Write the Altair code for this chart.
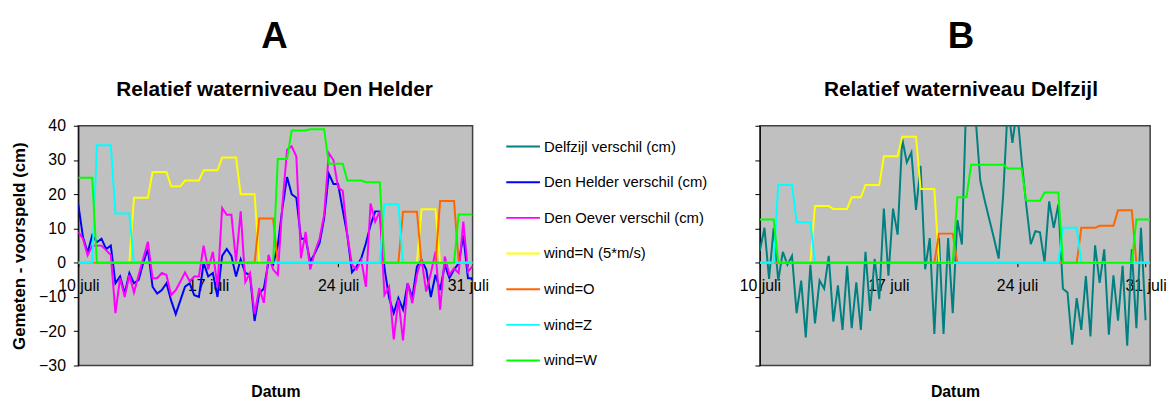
import altair as alt
import pandas as pd

FONT = "Liberation Sans"

series_names = ["Delfzijl verschil (cm)", "Den Helder verschil (cm)", "Den Oever verschil (cm)",
                "wind=N (5*m/s)", "wind=O", "wind=Z", "wind=W"]
series_colors = ["#008080", "#0000FF", "#FF00FF", "#FFFF00", "#FF6600", "#00FFFF", "#00FF00"]

date_ticks = [10, 17, 24, 31]
y_ticks = [-30, -20, -10, 0, 10, 20, 30, 40]

# ---- Panel A: Den Helder (6-hourly values, 10 juli 00h .. 31 juli 06h) ----
den_helder = [17, 7.5, 3, 8, 6, 7, 4, 5, -6, -4,
              -9, -3, -6, -5, 0, 4, -7, -9, -8, -6,
              -11, -15, -11, -7, -6, -9.5, -10, 0, -4, -3,
              -10, 2, 4, 2, -4, 1, -3, -3.5, -17, -9,
              -7.5, 0.3, -0.6, 5, 16, 25, 20, 19, 7, 7,
              0.3, 2.8, 5.7, 13, 26, 23, 23, 15.4, 8, -2.8,
              -1.1, 1.3, 5.7, 11, 15, 15, -1.6, -10.3, -14.7, -10.3,
              -13.7, -6, -10.3, -1.1, 0.8, -2, -10, -3.5, -8, -0.6,
              -4.5, -2, -0.2, 8, -4.5, -4.5]
den_oever = [9, 7, 2.2, 5, 5, 5, 3.7, 2.2, -14.7, -4.5,
             -10, -3.6, -8.7, -3.6, 1.3, 6.1, -4.5, -4.5, -3, -3.6,
             -9.4, -8, -5.5, -2.8, -5.4, -4, -4, 5, -2, 3.2,
             -7, 16, 14, 14, 0.3, 15, -5.6, -3, -15, -7.4,
             -11.7, 2.3, -2, -3.5, 17, 33, 34, 31, 1.3, 9,
             -2, 3.2, 7, 14, 32, 30, 22, 21, 8, -0.6,
             -2, 0.8, -7, 17.3, 12, 15, -9.4, -7, -22.4, -10.8,
             -22.7, -6, -11.8, -3.5, 1, -8.4, -3, 3.2, -13.7, 1.8,
             -3.5, -1.6, -3, 12, -2.6, -1]
wind_n_a = [0, 0, 0, 0, 0, 0, 0, 0, 0, 0,
            0, 0, 19, 19, 19, 19, 26.5, 26.5, 26.5, 26.5,
            22.3, 22.3, 22.3, 24, 24, 24, 24, 27, 27, 27,
            27, 30.7, 30.7, 30.7, 30.7, 20, 20, 20, 20, 0,
            0, 0, 0, 0, 0, 0, 0, 0, 0, 0,
            0, 0, 0, 0, 0, 0, 0, 0, 0, 0,
            0, 0, 0, 0, 0, 0, 0, 0, 0, 0,
            0, 0, 0, 0, 15.6, 15.6, 15.6, 15.6, 0, 0,
            0, 0, 0, 0, 0, 0]
wind_o_a = [0, 0, 0, 0, 0, 0, 0, 0, 0, 0,
            0, 0, 0, 0, 0, 0, 0, 0, 0, 0,
            0, 0, 0, 0, 0, 0, 0, 0, 0, 0,
            0, 0, 0, 0, 0, 0, 0, 0, 0, 12.9,
            12.9, 12.9, 12.9, 0, 0, 0, 0, 0, 0, 0,
            0, 0, 0, 0, 0, 0, 0, 0, 0, 0,
            0, 0, 0, 0, 0, 0, 0, 0, 0, 0,
            14.9, 14.9, 14.9, 14.9, 0, 0, 0, 0, 18, 18,
            18, 18, 0, 0, 0, 0]
wind_z_a = [0, 0, 0, 0, 34.3, 34.3, 34.3, 34.3, 14.4, 14.4,
            14.4, 14.4, 0, 0, 0, 0, 0, 0, 0, 0,
            0, 0, 0, 0, 0, 0, 0, 0, 0, 0,
            0, 0, 0, 0, 0, 0, 0, 0, 0, 0,
            0, 0, 0, 0, 0, 0, 0, 0, 0, 0,
            0, 0, 0, 0, 0, 0, 0, 0, 0, 0,
            0, 0, 0, 0, 0, 0, 17.1, 17.1, 17.1, 17.1,
            0, 0, 0, 0, 0, 0, 0, 0, 0, 0,
            0, 0, 0, 0, 0, 0]
wind_w_a = [24.8, 24.8, 24.8, 24.8, 0, 0, 0, 0, 0, 0,
            0, 0, 0, 0, 0, 0, 0, 0, 0, 0,
            0, 0, 0, 0, 0, 0, 0, 0, 0, 0,
            0, 0, 0, 0, 0, 0, 0, 0, 0, 0,
            0, 0, 0, 30.3, 30.3, 30.3, 38.6, 38.6, 38.6, 38.6,
            39, 39, 39, 39, 28.9, 28.9, 28.9, 28.9, 24, 24,
            24, 24, 23.5, 23.5, 23.5, 23.5, 0, 0, 0, 0,
            0, 0, 0, 0, 0, 0, 0, 0, 0, 0,
            0, 0, 14.1, 14.1, 14.1, 14.1]

# ---- Panel B: Delfzijl ----
delfzijl = [3.5, 10.2, -4.7, 10.2, -5.2, 3.2, -0.6, 2, -14.7, -5.2,
            -21.8, -0.6, -17.7, -5.2, -7.6, 2, -17.2, -6.6, -19.6, -0.9,
            -19.1, -5.7, -19.6, 3.2, -14.1, 1.1, -10.6, 15.8, -3.8, 15.8,
            8.2, 36.2, 29.3, 32.2, 15.4, 28.3, -1.9, 7.2, -20.8, 7.2,
            -20.8, 7.2, -14.7, 12.5, 5.3, 50, 55, 42, 24, 18,
            12.5, 7, 1.2, 20, 46, 35, 45, 30, 17, 5.4,
            9.2, 8.9, 0.1, 17.9, 10.2, 17, -7.6, -8.7, -23.9, -10.3,
            -19.6, -3.9, -21.5, 5.1, -5.9, 3.9, -21, -3.7, -16.9, -0.9,
            -24.2, 3.9, -19.1, 10.2, -16.8, None]
wind_n_b = [0, 0, 0, 0, 0, 0, 0, 0, 0, 0,
            0, 0, 16.6, 16.6, 16.6, 16.6, 15.7, 15.7, 15.7, 15.7,
            19.1, 19.1, 19.1, 22.7, 22.7, 22.7, 22.7, 31.1, 31.1, 31.1,
            31.1, 36.8, 36.8, 36.8, 36.8, 21.5, 21.5, 21.5, 21.5, 0,
            0, 0, 0, 0, 0, 0, 0, 0, 0, 0,
            0, 0, 0, 0, 0, 0, 0, 0, 0, 0,
            0, 0, 0, 0, 0, 0, 0, 0, 0, 0,
            0, 0, 0, 0, 0, 0, 0, 0, 0, 0,
            0, 0, 0, 0, 0, 0]
wind_o_b = [0, 0, 0, 0, 0, 0, 0, 0, 0, 0,
            0, 0, 0, 0, 0, 0, 0, 0, 0, 0,
            0, 0, 0, 0, 0, 0, 0, 0, 0, 0,
            0, 0, 0, 0, 0, 0, 0, 0, 0, 8.5,
            8.5, 8.5, 8.5, 0, 0, 0, 0, 0, 0, 0,
            0, 0, 0, 0, 0, 0, 0, 0, 0, 0,
            0, 0, 0, 0, 0, 0, 0, 0, 0, 0,
            10.2, 10.2, 10.2, 10.2, 10.8, 10.8, 10.8, 10.8, 15.3, 15.3,
            15.3, 15.3, 0, 0, 0, 0]
wind_z_b = [0, 0, 0, 0, 22.7, 22.7, 22.7, 22.7, 11.8, 11.8,
            11.8, 11.8, 0, 0, 0, 0, 0, 0, 0, 0,
            0, 0, 0, 0, 0, 0, 0, 0, 0, 0,
            0, 0, 0, 0, 0, 0, 0, 0, 0, 0,
            0, 0, 0, 0, 0, 0, 0, 0, 0, 0,
            0, 0, 0, 0, 0, 0, 0, 0, 0, 0,
            0, 0, 0, 0, 0, 0, 10.2, 10.2, 10.2, 10.2,
            0, 0, 0, 0, 0, 0, 0, 0, 0, 0,
            0, 0, 0, 0, 0, 0]
wind_w_b = [12.6, 12.6, 12.6, 12.6, 0, 0, 0, 0, 0, 0,
            0, 0, 0, 0, 0, 0, 0, 0, 0, 0,
            0, 0, 0, 0, 0, 0, 0, 0, 0, 0,
            0, 0, 0, 0, 0, 0, 0, 0, 0, 0,
            0, 0, 0, 19.1, 19.1, 19.1, 28.6, 28.6, 28.6, 28.6,
            28.6, 28.6, 28.6, 28.6, 27.5, 27.5, 27.5, 27.5, 18.1, 18.1,
            18.1, 18.1, 20.5, 20.5, 20.5, 20.5, 0, 0, 0, 0,
            0, 0, 0, 0, 0, 0, 0, 0, 0, 0,
            0, 0, 12.6, 12.6, 12.6, 12.6]


def long_df(pairs):
    rows = []
    for name, vals in pairs:
        for i, v in enumerate(vals):
            if v is None:
                continue
            rows.append({"dag": 10 + i * 0.25, "serie": name, "waarde": v})
    return pd.DataFrame(rows)


pairs_a = [(series_names[1], den_helder), (series_names[2], den_oever),
           (series_names[3], wind_n_a), (series_names[4], wind_o_a),
           (series_names[5], wind_z_a), (series_names[6], wind_w_a)]
pairs_b = [(series_names[0], delfzijl),
           (series_names[3], wind_n_b), (series_names[4], wind_o_b),
           (series_names[5], wind_z_b), (series_names[6], wind_w_b)]
df_a = long_df(pairs_a)
df_b = long_df(pairs_b)

W_A, W_B, H = 398, 394, 242


def panel(df, names, width, big, sub, first, dx, offset):
    x = alt.X("dag:Q",
              scale=alt.Scale(domain=[10, 31.25], nice=False, zero=False),
              axis=alt.Axis(values=date_ticks, labelExpr="datum.value + ' juli'",
                            offset=-H * 3 / 7, domain=False, grid=False,
                            tickSize=4, tickColor="black", labelPadding=11,
                            labelFont=FONT, labelFontSize=16, labelColor="black",
                            labelFlush=False, labelOverlap=False, labelBound=False,
                            title="Datum", titleFont=FONT, titleFontSize=16,
                            titleFontWeight="bold", titleColor="black",
                            titleY=130, titleBaseline="middle"))
    if first:
        yaxis = alt.Axis(values=y_ticks, grid=False, tickSize=5, tickColor="black",
                         domainColor="black", labelPadding=8, labelFont=FONT,
                         labelFontSize=16, labelColor="black",
                         title="Gemeten - voorspeld (cm)", titleFont=FONT,
                         titleFontSize=17, titleFontWeight="bold", titleColor="black",
                         titleX=-59, titleY=H / 2, titleBaseline="middle", titleAngle=270)
        legend = alt.Legend(title=None, orient="none", legendX=431, legendY=3,
                            symbolType="stroke", symbolSize=1156, symbolStrokeWidth=2,
                            labelFont=FONT, labelFontSize=15, labelColor="black",
                            labelOffset=3, rowPadding=10, padding=0, labelLimit=400)
    else:
        yaxis = alt.Axis(values=y_ticks, grid=False, tickSize=5, tickColor="black",
                         domainColor="black", labels=False, title=None)
        legend = None
    y = alt.Y("waarde:Q", scale=alt.Scale(domain=[-30, 40], nice=False, zero=False),
              axis=yaxis)
    color = alt.Color("serie:N", scale=alt.Scale(domain=series_names, range=series_colors),
                      legend=legend)
    base = alt.Chart(df).mark_line(strokeWidth=2, clip=True).encode(x=x, y=y, color=color)
    layers = [base.transform_filter(alt.datum.serie == n) for n in names]
    return alt.layer(*layers).properties(
        width=width, height=H,
        title=alt.TitleParams(text=big, subtitle=sub, font=FONT, fontSize=37,
                              fontWeight="bold", color="black", subtitleFont=FONT,
                              subtitleFontSize=21, subtitleFontWeight="bold",
                              subtitleColor="black", subtitlePadding=23, offset=offset,
                              anchor="middle", frame="group", dx=dx)
    )


chart_a = panel(df_a, [p[0] for p in pairs_a], W_A, "A", "Relatief waterniveau Den Helder",
                True, -1, 17)
chart_b = panel(df_b, [p[0] for p in pairs_b], W_B, "B", "Relatief waterniveau Delfzijl",
                False, 6, 25)

chart = alt.hconcat(chart_a, chart_b, spacing=290, bounds="flush").resolve_scale(
    color="independent", x="independent", y="independent"
).configure_view(
    fill="#C0C0C0", stroke="#404040", strokeWidth=1.5
).properties(
    background="white", padding={"left": 2, "top": 7, "right": 0, "bottom": 0}
)

chart.save("out.html", embed_options={"renderer": "svg", "actions": False})
